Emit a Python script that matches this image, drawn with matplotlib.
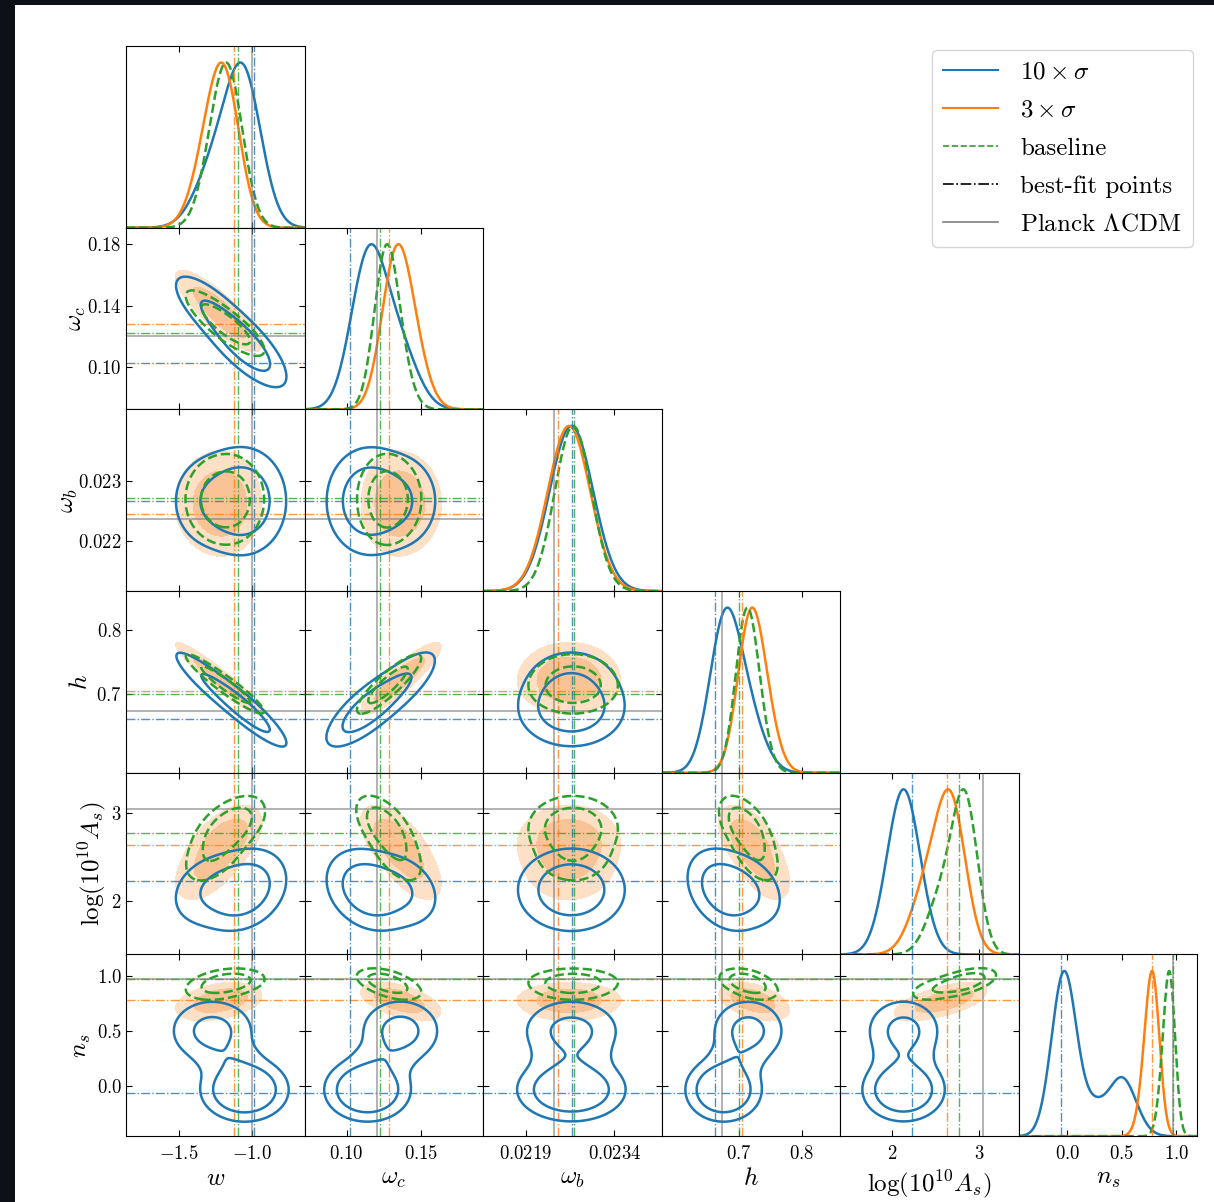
import numpy as np
import matplotlib
matplotlib.use("Agg")
import matplotlib.pyplot as plt
from matplotlib.lines import Line2D
from matplotlib.patches import Rectangle

plt.rcParams['font.family'] = 'serif'
plt.rcParams['font.serif'] = ['cmr10']
plt.rcParams['mathtext.fontset'] = 'cm'
plt.rcParams['axes.formatter.use_mathtext'] = True

# parameter names, plot ranges and ticks
labels = [r'$w$', r'$\omega_c$', r'$\omega_b$', r'$h$', r'$\log(10^{10}A_s)$', r'$n_s$']
lims = [(-1.86, -0.64), (0.072, 0.191), (0.02117, 0.0242), (0.578, 0.860), (1.40, 3.45), (-0.45, 1.19)]
xticks = [[-1.5, -1.0], [0.10, 0.15], [0.0219, 0.0234], [0.7, 0.8], [2, 3], [0.0, 0.5, 1.0]]
xticklabels = [[r'$-1.5$', r'$-1.0$'], [r'$0.10$', r'$0.15$'], [r'$0.0219$', r'$0.0234$'],
               [r'$0.7$', r'$0.8$'], [r'$2$', r'$3$'], [r'$0.0$', r'$0.5$', r'$1.0$']]
yticks = [[], [0.10, 0.14, 0.18], [0.022, 0.023], [0.7, 0.8], [2, 3], [0.0, 0.5, 1.0]]
yticklabels = [[], [r'$0.10$', r'$0.14$', r'$0.18$'], [r'$0.022$', r'$0.023$'],
               [r'$0.7$', r'$0.8$'], [r'$2$', r'$3$'], [r'$0.0$', r'$0.5$', r'$1.0$']]
ylabel_x = [None, -0.213, -0.258, -0.19, -0.10, -0.185]

# reference values
planck = [-1.0, 0.1200, 0.02237, 0.674, 3.044, 0.965]
bestfit_blue = [-0.986, 0.1024, 0.02268, 0.662, 2.23, -0.06]
bestfit_orange = [-1.125, 0.1280, 0.02245, 0.705, 2.63, 0.775]
bestfit_green = [-1.094, 0.1223, 0.02272, 0.700, 2.77, 0.965]

# posteriors summarised as gaussian mixtures (weight, mean, sigma per component)
# order: w, omega_c, omega_b, h, logAs, ns
blue_weights = [1.0, 0.12, 0.40]
blue_means = [[-1.05, 0.114, 0.02267, 0.676, 2.13, -0.03],
              [-1.15, 0.124, 0.02267, 0.695, 2.13, 0.24],
              [-1.27, 0.136, 0.02267, 0.715, 2.13, 0.50]]
blue_sigmas = [[0.12, 0.0115, 0.00037, 0.024, 0.19, 0.115],
               [0.12, 0.0115, 0.00037, 0.024, 0.19, 0.10],
               [0.13, 0.0120, 0.00037, 0.026, 0.19, 0.13]]
blue_corr = [[1.0, -0.75, 0.0, -0.90, 0.25, 0.0],
             [-0.75, 1.0, 0.0, 0.75, -0.25, 0.0],
             [0.0, 0.0, 1.0, 0.0, 0.0, 0.0],
             [-0.90, 0.75, 0.0, 1.0, -0.30, 0.0],
             [0.25, -0.25, 0.0, -0.30, 1.0, 0.0],
             [0.0, 0.0, 0.0, 0.0, 0.0, 1.0]]

orange_weights = [1.0, 0.5]
orange_means = [[-1.18, 0.132, 0.02263, 0.716, 2.68, 0.79],
                [-1.30, 0.143, 0.02263, 0.738, 2.40, 0.73]]
orange_sigmas = [[0.105, 0.0095, 0.00036, 0.020, 0.17, 0.062],
                 [0.110, 0.0100, 0.00036, 0.021, 0.19, 0.070]]
orange_corr = [[1.0, -0.80, 0.0, -0.93, 0.50, 0.20],
               [-0.80, 1.0, 0.0, 0.85, -0.55, -0.40],
               [0.0, 0.0, 1.0, 0.0, 0.0, 0.0],
               [-0.93, 0.85, 0.0, 1.0, -0.50, -0.30],
               [0.50, -0.55, 0.0, -0.50, 1.0, 0.50],
               [0.20, -0.40, 0.0, -0.30, 0.50, 1.0]]

green_weights = [1.0, 0.45]
green_means = [[-1.15, 0.1255, 0.02270, 0.710, 2.84, 0.945],
               [-1.25, 0.1330, 0.02270, 0.726, 2.57, 0.890]]
green_sigmas = [[0.100, 0.0078, 0.00031, 0.017, 0.145, 0.050],
                [0.100, 0.0085, 0.00031, 0.018, 0.170, 0.055]]
green_corr = orange_corr

C_BLUE = '#1f77b4'
C_ORANGE = '#ff7f0e'
C_GREEN = '#2ca02c'

series = [
    dict(w=blue_weights, m=blue_means, s=blue_sigmas, c=blue_corr, color=C_BLUE, ls='-', fill=False),
    dict(w=orange_weights, m=orange_means, s=orange_sigmas, c=orange_corr, color=C_ORANGE, ls='-', fill=True),
    dict(w=green_weights, m=green_means, s=green_sigmas, c=green_corr, color=C_GREEN, ls='--', fill=False),
]
bestfits = [(bestfit_blue, C_BLUE), (bestfit_orange, C_ORANGE), (bestfit_green, C_GREEN)]


def dens1(sr, k, x):
    p = np.zeros_like(x)
    for wt, m, s in zip(sr['w'], sr['m'], sr['s']):
        p += wt / s[k] * np.exp(-0.5 * ((x - m[k]) / s[k]) ** 2)
    return p


def dens2(sr, kx, ky, X, Y):
    r = sr['c'][kx][ky]
    P = np.zeros_like(X)
    for wt, m, s in zip(sr['w'], sr['m'], sr['s']):
        dx = (X - m[kx]) / s[kx]
        dy = (Y - m[ky]) / s[ky]
        z = (dx * dx - 2 * r * dx * dy + dy * dy) / (1 - r * r)
        P += wt * np.exp(-0.5 * z) / (s[kx] * s[ky] * np.sqrt(1 - r * r))
    return P


def mass_levels(P, fracs):
    p = np.sort(P.ravel())[::-1]
    c = np.cumsum(p)
    c /= c[-1]
    return [p[np.searchsorted(c, f)] for f in fracs]


n = len(labels)
fig = plt.figure(figsize=(12.14, 12.02), dpi=100)
fig.patch.set_facecolor('#0d1117')
fig.add_artist(Rectangle((15 / 1214, 0), 1, 1 - 5 / 1202, transform=fig.transFigure,
                         facecolor='white', edgecolor='none', zorder=-10))

x0, y0, cw, ch = 126, 46, 178.5, 181.7
W, H = 1214.0, 1202.0

for i in range(n):
    for j in range(i + 1):
        ax = fig.add_axes([(x0 + j * cw) / W, 1 - (y0 + (i + 1) * ch) / H, cw / W, ch / H])
        lo, hi = lims[j]
        if i == j:
            x = np.linspace(lo, hi, 400)
            for sr in series:
                p = dens1(sr, j, x)
                ax.plot(x, p / p.max(), color=sr['color'], ls=sr['ls'], lw=1.8)
            ax.set_ylim(0, 1.1)
            ax.set_yticks([])
        else:
            ylo, yhi = lims[i]
            gx = np.linspace(lo - 0.6 * (hi - lo), hi + 0.6 * (hi - lo), 360)
            gy = np.linspace(ylo - 0.6 * (yhi - ylo), yhi + 0.6 * (yhi - ylo), 360)
            X, Y = np.meshgrid(gx, gy)
            for sr in series:
                P = dens2(sr, j, i, X, Y)
                l95, l68 = mass_levels(P, [0.95, 0.68])
                if sr['fill']:
                    ax.contourf(X, Y, P, levels=[l95, l68, P.max() * 2],
                                colors=['#fde0c5', '#f9c396'], zorder=1)
                else:
                    ax.contour(X, Y, P, levels=[l95, l68], colors=sr['color'],
                               linestyles=sr['ls'], linewidths=1.8, zorder=3)
            ax.set_ylim(ylo, yhi)
            ax.set_yticks(yticks[i])
            ax.axhline(planck[i], color='gray', lw=1.2, alpha=0.7, zorder=2)
            for bf, col in bestfits:
                ax.axhline(bf[i], color=col, lw=1.0, ls='-.', alpha=0.8, zorder=2)
        ax.set_xlim(lo, hi)
        ax.set_xticks(xticks[j])
        ax.axvline(planck[j], color='gray', lw=1.2, alpha=0.7, zorder=2)
        for bf, col in bestfits:
            ax.axvline(bf[j], color=col, lw=1.0, ls='-.', alpha=0.8, zorder=2)

        ax.tick_params(direction='in', top=True, right=True, length=4, width=0.8,
                       labelsize=13.5, pad=3)
        if i == n - 1:
            ax.tick_params(axis='x', pad=6)
            ax.set_xticklabels(xticklabels[j])
            ax.set_xlabel(labels[j], fontsize=18, labelpad=4)
        else:
            ax.set_xticklabels([])
        if j == 0 and i > 0:
            ax.set_yticklabels(yticklabels[i])
            ax.set_ylabel(labels[i], fontsize=18)
            ax.yaxis.set_label_coords(ylabel_x[i], 0.5)
        else:
            ax.set_yticklabels([])

handles = [Line2D([], [], color=C_BLUE, lw=1.5),
           Line2D([], [], color=C_ORANGE, lw=1.5),
           Line2D([], [], color=C_GREEN, lw=1.2, ls='--'),
           Line2D([], [], color='black', lw=1.2, ls='-.'),
           Line2D([], [], color='gray', lw=1.2)]
names = [r'$10\times\sigma$', r'$3\times\sigma$', 'baseline', 'best-fit points', r'Planck $\Lambda$CDM']
fig.legend(handles, names, loc='upper right', bbox_to_anchor=(1193 / W, 1 - 50 / H),
           fontsize=18, handlelength=2.2, labelspacing=0.62, borderpad=0.45,
           handletextpad=0.9, borderaxespad=0)

plt.savefig('out.png', dpi=100, facecolor=fig.get_facecolor())
